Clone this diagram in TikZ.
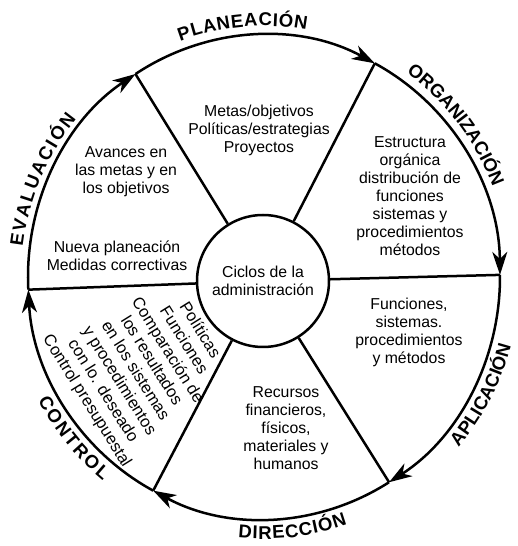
\documentclass[tikz,border=0pt]{standalone}
\usepackage{fontspec}
\setmainfont{Liberation Sans}
\usetikzlibrary{decorations.text,arrows.meta,calc}
\newcommand\lblfont{\bfseries\fontsize{18.5}{18.5}\selectfont}
\begin{document}
\begin{tikzpicture}[x=1pt,y=1pt,
  ring/.style={line width=2.5pt},
  flow/.style={ring,-{Stealth[length=23pt,width=15pt,inset=7pt]}},
  body/.style={align=center,font=\fontsize{15.8}{18}\selectfont,inner sep=0pt},
  tilted/.style={align=center,font=\fontsize{16.5}{19}\selectfont,inner sep=0pt,rotate=-58},
  hubstyle/.style={draw,circle,line width=2.5pt,minimum size=132pt,inner sep=0pt}]
\useasboundingbox (0,0) rectangle (518,546);
\coordinate (O) at (264,269);
\node[hubstyle,body] (hub) at (263,265) {Ciclos de la\\administración};
\foreach \a/\n in {0.5/p0,62/p1,123/p2,183/p3,242/p4,302/p5}
  \coordinate (\n) at ($(O)+(\a:236pt and 242pt)$);
% outer arcs with arrows (clockwise)
\draw[flow] (p1) arc[start angle=62,end angle=0.5,x radius=236pt,y radius=242pt];
\draw[flow] (p2) arc[start angle=123,end angle=62,x radius=236pt,y radius=242pt];
\draw[flow] (p3) arc[start angle=183,end angle=123,x radius=236pt,y radius=242pt];
\draw[flow] (p4) arc[start angle=242,end angle=183,x radius=236pt,y radius=242pt];
\draw[flow] (p5) arc[start angle=302,end angle=242,x radius=236pt,y radius=242pt];
\draw[flow] (p0) arc[start angle=360.5,end angle=302,x radius=236pt,y radius=242pt];
% dividers
\foreach \n in {p0,p1,p2,p3,p4,p5} \draw[ring] (\n) -- (hub);
% outer labels
\path[decorate,decoration={text along path,text align={fit to path},text={|\lblfont|PLANEACIÓN}}]
  ($(O)+(110:245pt and 251pt)$) arc[start angle=110,end angle=80,x radius=245pt,y radius=251pt];
\path[decorate,decoration={text along path,text align={fit to path},text={|\lblfont|ORGANIZACIÓN}}]
  ($(O)+(54.5:245pt and 251pt)$) arc[start angle=54.5,end angle=21,x radius=245pt,y radius=251pt];
\path[decorate,decoration={text along path,text align={fit to path},text={|\lblfont|EVALUACIÓN}}]
  ($(O)+(173:243pt and 249pt)$) arc[start angle=173,end angle=140.5,x radius=243pt,y radius=249pt];
\path[decorate,decoration={text along path,text align={fit to path},text={|\lblfont|APLICACIÓN}}]
  ($(O)+(-40.5:256pt and 262pt)$) arc[start angle=-40.5,end angle=-15.5,x radius=256pt,y radius=262pt];
\path[decorate,decoration={text along path,text align={fit to path},text={|\lblfont|DIRECCIÓN}}]
  ($(O)+(-95.8:256pt and 262pt)$) arc[start angle=-95.8,end angle=-71,x radius=256pt,y radius=262pt];
\path[decorate,decoration={text along path,text align={fit to path},text={|\lblfont|CONTROL}}]
  ($(O)+(-152:256pt and 262pt)$) arc[start angle=-152,end angle=-129,x radius=256pt,y radius=262pt];
% sector texts
\node[body] (metas) at (259,416) {Metas/objetivos\\Políticas/estrategias\\Proyectos};
\node[body] (estr) at (410,350) {Estructura\\orgánica\\distribución de\\funciones\\sistemas y\\procedimientos\\métodos};
\node[body] (avan) at (126,374) {Avances en\\las metas y en\\los objetivos};
\node[body] (nueva) at (117,290) {Nueva planeación\\Medidas correctivas};
\node[body] (func) at (409,214) {Funciones,\\sistemas.\\procedimientos\\y métodos};
\node[body] (recur) at (286,118) {Recursos\\financieros,\\físicos,\\materiales y\\humanos};
\node[tilted] (ctrl) at (143,180) {Políticas\\Funciones\\Comparación de\\los resultados\\en los sistemas\\y procedimientos\\con lo. deseado\\Control presupuestal};
\end{tikzpicture}
\end{document}
